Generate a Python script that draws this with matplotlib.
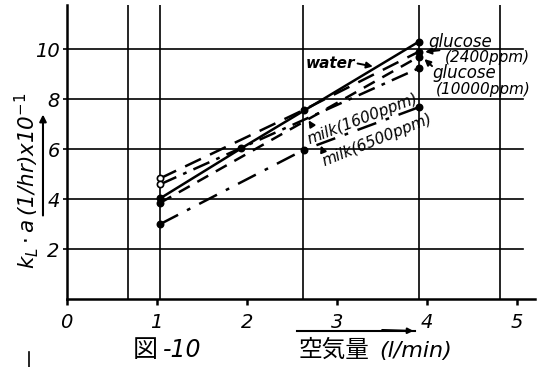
import matplotlib
matplotlib.use("Agg")
import matplotlib.pyplot as plt
from matplotlib.lines import Line2D

# air flow (l/min) vs kL*a (1/hr) x 10^-1
x_water = [1.04, 1.94, 3.91]
y_water = [4.04, 6.04, 10.3]
x_glu2400 = [1.04, 2.63, 3.91]
y_glu2400 = [4.84, 7.57, 9.9]
x_glu10000 = [1.04, 3.91]
y_glu10000 = [3.86, 9.7]
x_milk1600 = [1.04, 3.91]
y_milk1600 = [4.6, 9.24]
x_milk6500 = [1.04, 2.63, 3.91]
y_milk6500 = [3.01, 5.97, 7.68]

x_ticks = [0, 1, 2, 3, 4, 5]
y_ticks = [2, 4, 6, 8, 10]
v_grid = [0.68, 1.04, 2.62, 3.91, 4.81]

LATIN = "DejaVu Sans"
CJK = "Noto Sans CJK JP"

fig = plt.figure(figsize=(5.42, 3.67), dpi=100)
ax = fig.add_axes([0.123, 0.1845, 0.864, 0.802])
ax.set_xlim(0, 5.2)
ax.set_ylim(0, 11.77)

for s in ("top", "right"):
    ax.spines[s].set_visible(False)
for s in ("left", "bottom"):
    ax.spines[s].set_linewidth(1.8)

for yv in y_ticks:
    ax.axhline(yv, xmin=0, xmax=0.975, color="k", lw=1.2, zorder=1)
for xv in v_grid:
    ax.axvline(xv, color="k", lw=1.2, zorder=1)

ax.set_xticks(x_ticks)
ax.set_xticklabels([str(v) for v in x_ticks], fontstyle="italic", fontsize=14)
ax.set_yticks(y_ticks)
ax.set_yticklabels([str(v) for v in y_ticks], fontstyle="italic", fontsize=14)
ax.tick_params(axis="x", direction="out", length=4, width=1.8, pad=6)
ax.tick_params(axis="y", direction="out", length=3, width=1.2, pad=2)

series = [
    (x_water, y_water, "-", True),
    (x_glu2400, y_glu2400, (0, (7, 4)), False),
    (x_glu10000, y_glu10000, (0, (5, 3.5)), True),
    (x_milk1600, y_milk1600, (0, (7, 3, 1.5, 3)), False),
    (x_milk6500, y_milk6500, (0, (8, 4, 1.5, 4)), True),
]
for xs, ys, ls, first_filled in series:
    ax.plot(xs, ys, color="k", lw=1.8, linestyle=ls, zorder=3)
    face = ["k"] * len(xs)
    if not first_filled:
        face[0] = "white"
    for xi, yi, fc in zip(xs, ys, face):
        ax.plot(xi, yi, "o", ms=4.5, mfc=fc, mec="k", mew=1.2, zorder=4)

arrow = dict(arrowstyle="-|>", color="k", lw=1.4, mutation_scale=9)
txt = dict(family=LATIN, fontstyle="italic", fontsize=11, color="k")

ax.text(4.02, 10.29, "glucose", va="center", ha="left", **{**txt, "fontsize": 12})
ax.text(4.20, 9.65, "(2400ppm)", va="center", ha="left", **txt)
ax.annotate("", xy=(3.95, 9.88), xytext=(4.17, 9.97), arrowprops=arrow,
            annotation_clip=False)

ax.text(4.06, 9.05, "glucose", va="center", ha="left", **{**txt, "fontsize": 12})
ax.text(4.10, 8.37, "(10000ppm)", va="center", ha="left", **txt)
ax.annotate("", xy=(3.95, 9.68), xytext=(4.08, 9.25), arrowprops=arrow,
            annotation_clip=False)

ax.text(2.65, 9.41, "water", va="center", ha="left",
        **{**txt, "fontweight": "bold"})
ax.annotate("", xy=(3.43, 9.29), xytext=(3.20, 9.45), arrowprops=arrow)

ax.text(3.29, 7.2, "milk(1600ppm)", va="center", ha="center",
        rotation=21, rotation_mode="anchor", **txt)
ax.annotate("", xy=(2.67, 7.25), xytext=(2.74, 6.85), arrowprops=arrow)

ax.text(3.45, 6.37, "milk(6500ppm)", va="center", ha="center",
        rotation=22, rotation_mode="anchor", **txt)
ax.annotate("", xy=(2.81, 6.25), xytext=(2.85, 5.89), arrowprops=arrow)

# y-axis title with its arrow
ax.text(-0.45, 4.75, r"$k_L\cdot a\,$(1/hr)x10$^{-1}$", rotation=90,
        ha="center", va="center", family=LATIN, fontstyle="italic",
        fontsize=15.5, transform=ax.transData, clip_on=False)
ax.annotate("", xy=(-0.263, 7.5), xytext=(-0.263, 3.24),
            arrowprops=dict(arrowstyle="-|>", color="k", lw=1.5,
                            mutation_scale=10),
            annotation_clip=False)

# x-axis title with its arrow
fig.text(0.551, 0.046, "空気量", family=CJK, fontsize=17, ha="left",
         va="center")
fig.text(0.700, 0.044, "(l/min)", family=LATIN, fontstyle="italic",
         fontsize=16, ha="left", va="center")
fig.add_artist(Line2D([0.548, 0.765], [0.098, 0.098], color="k", lw=1.5))
ax.annotate("", xy=(0.768, 0.098), xytext=(0.70, 0.101),
            xycoords="figure fraction", textcoords="figure fraction",
            arrowprops=dict(arrowstyle="-|>", color="k", lw=1.5,
                            mutation_scale=8))

# figure caption
fig.text(0.245, 0.046, "図", family=CJK, fontsize=18, ha="left", va="center")
fig.text(0.300, 0.046, "-10", family=LATIN, fontstyle="italic", fontsize=17,
         ha="left", va="center")

fig.add_artist(Line2D([0.053, 0.053], [0.0, 0.04], color="k", lw=1.2))

fig.savefig("out.png", dpi=100, facecolor="white")
